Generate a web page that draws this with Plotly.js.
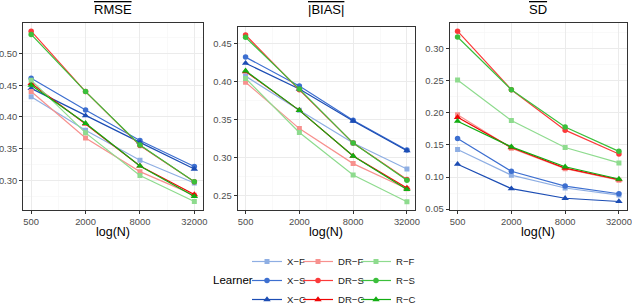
<!DOCTYPE html>
<html>
<head>
<meta charset="utf-8">
<script src="https://cdn.plot.ly/plotly-3.0.1.min.js"></script>
<style>html,body{margin:0;padding:0;background:#fff;}#chart{width:632px;height:304px;}</style>
</head>
<body>
<div id="chart"></div>
<script>
// ---- data ----
const N = [500, 2000, 8000, 32000];
const nLabels = ['500', '2000', '8000', '32000'];
const learners = ['X\u2212F', 'X\u2212S', 'X\u2212C', 'DR\u2212F', 'DR\u2212S', 'DR\u2212C', 'R\u2212F', 'R\u2212S', 'R\u2212C'];
const panelTitles = ['RMSE', '|BIAS|', 'SD'];
const xTitle = 'log(N)';

// RMSE
const rmse_XF = [0.432, 0.379, 0.332, 0.296];
const rmse_XS = [0.461, 0.411, 0.363, 0.322];
const rmse_XC = [0.445, 0.402, 0.360, 0.318];
const rmse_DRF = [0.440, 0.367, 0.314, 0.277];
const rmse_DRS = [0.535, 0.440, 0.355, 0.298];
const rmse_DRC = [0.453, 0.389, 0.323, 0.278];
const rmse_RF = [0.458, 0.375, 0.308, 0.267];
const rmse_RS = [0.530, 0.440, 0.356, 0.298];
const rmse_RC = [0.450, 0.390, 0.323, 0.275];

// |BIAS|
const bias_XF = [0.407, 0.362, 0.319, 0.285];
const bias_XS = [0.432, 0.394, 0.349, 0.310];
const bias_XC = [0.424, 0.390, 0.348, 0.309];
const bias_DRF = [0.399, 0.338, 0.292, 0.259];
const bias_DRS = [0.461, 0.389, 0.319, 0.271];
const bias_DRC = [0.413, 0.362, 0.302, 0.260];
const bias_RF = [0.404, 0.333, 0.277, 0.242];
const bias_RS = [0.458, 0.390, 0.319, 0.270];
const bias_RC = [0.414, 0.362, 0.302, 0.258];

// SD
const sd_XF = [0.143, 0.103, 0.083, 0.072];
const sd_XS = [0.160, 0.109, 0.086, 0.074];
const sd_XC = [0.120, 0.082, 0.067, 0.062];
const sd_DRF = [0.197, 0.145, 0.113, 0.095];
const sd_DRS = [0.327, 0.236, 0.173, 0.136];
const sd_DRC = [0.193, 0.146, 0.114, 0.096];
const sd_RF = [0.251, 0.188, 0.146, 0.122];
const sd_RS = [0.318, 0.236, 0.178, 0.140];
const sd_RC = [0.187, 0.147, 0.116, 0.097];

const rmse = [rmse_XF, rmse_XS, rmse_XC, rmse_DRF, rmse_DRS, rmse_DRC, rmse_RF, rmse_RS, rmse_RC];
const bias = [bias_XF, bias_XS, bias_XC, bias_DRF, bias_DRS, bias_DRC, bias_RF, bias_RS, bias_RC];
const sd = [sd_XF, sd_XS, sd_XC, sd_DRF, sd_DRS, sd_DRC, sd_RF, sd_RS, sd_RC];

// ---- styles ----
const colors = ['#8eaee3', '#3d6fd0', '#1c4db4', '#f7918e', '#fb3a3a', '#ef0505', '#8edb8e', '#3bbf3b', '#13ad13'];
const symbols = ['square', 'circle', 'triangle-up', 'square', 'circle', 'triangle-up', 'square', 'circle', 'triangle-up'];
const sizes = [5, 5.5, 6.5, 5, 5.5, 6.5, 5, 5.5, 6.5];
const legendIds = ['legend', 'legend', 'legend', 'legend2', 'legend2', 'legend2', 'legend3', 'legend3', 'legend3'];

const W = 632, H = 304;
const panels = [
  {data: rmse, x0: 23, x1: 202.5, y0: 22.7, y1: 210},
  {data: bias, x0: 237.5, x1: 415, y0: 26.7, y1: 210},
  {data: sd, x0: 449.5, x1: 627, y0: 22.7, y1: 210}
];

const traces = [];
panels.forEach((p, pi) => {
  const ax = pi === 0 ? '' : String(pi + 1);
  p.data.forEach((vals, li) => {
    traces.push({
      type: 'scatter', mode: 'lines+markers',
      x: N, y: vals,
      xaxis: 'x' + ax, yaxis: 'y' + ax,
      name: learners[li], legendgroup: learners[li],
      legend: legendIds[li],
      showlegend: pi === 0,
      line: {color: colors[li], width: 1.2},
      marker: {color: colors[li], symbol: symbols[li], size: sizes[li], line: {width: 0}},
      hoverinfo: 'x+y+name'
    });
  });
});

function expand(arrs) {
  let mn = Infinity, mx = -Infinity;
  arrs.forEach(a => a.forEach(v => { mn = Math.min(mn, v); mx = Math.max(mx, v); }));
  const pad = (mx - mn) * 0.05;
  return [mn - pad, mx + pad];
}
const lx0 = Math.log10(N[0]), lx1 = Math.log10(N[N.length - 1]);
const xr = [lx0 - 0.05 * (lx1 - lx0), lx1 + 0.05 * (lx1 - lx0)];
const minorX = [];
for (let i = 0; i < N.length - 1; i++) minorX.push(Math.sqrt(N[i] * N[i + 1]));

const tickFont = {family: 'Liberation Sans, Arial, sans-serif', size: 9.4, color: '#4d4d4d'};
const layout = {
  width: W, height: H,
  margin: {l: 0, r: 0, t: 0, b: 0, autoexpand: false},
  paper_bgcolor: '#ffffff', plot_bgcolor: '#ffffff',
  font: {family: 'Liberation Sans, Arial, sans-serif', color: '#000'},
  showlegend: true,
  annotations: [],
  hovermode: 'closest'
};

panels.forEach((p, pi) => {
  const ax = pi === 0 ? '' : String(pi + 1);
  layout['xaxis' + ax] = {
    domain: [p.x0 / W, p.x1 / W], anchor: 'y' + ax,
    type: 'log', range: xr, automargin: false,
    tickmode: 'array', tickvals: N, ticktext: nLabels,
    tickfont: tickFont, ticks: 'outside', ticklen: 3, tickcolor: '#333', tickwidth: 1,
    ticklabeloverflow: 'allow',
    showgrid: true, gridcolor: '#ebebeb', gridwidth: 1,
    minor: {tickmode: 'array', tickvals: minorX, showgrid: true, gridcolor: '#f5f5f5', gridwidth: 0.6, ticks: ''},
    showline: true, mirror: true, linecolor: '#333', linewidth: 1,
    zeroline: false
  };
  layout['yaxis' + ax] = {
    domain: [(H - p.y1) / H, (H - p.y0) / H], anchor: 'x' + ax,
    range: expand(p.data), automargin: false,
    tickmode: 'linear', tick0: 0, dtick: 0.05, tickformat: '.2f',
    tickfont: tickFont, ticks: 'outside', ticklen: 3, tickcolor: '#333', tickwidth: 1,
    ticklabeloverflow: 'allow',
    showgrid: true, gridcolor: '#ebebeb', gridwidth: 1,
    minor: {tickmode: 'linear', tick0: 0, dtick: 0.025, showgrid: true, gridcolor: '#f5f5f5', gridwidth: 0.6, ticks: ''},
    showline: true, mirror: true, linecolor: '#333', linewidth: 1,
    zeroline: false
  };
  // panel title (with overline)
  layout.annotations.push({
    xref: 'paper', yref: 'paper',
    x: ((p.x0 + p.x1) / 2) / W, y: 1, xanchor: 'center', yanchor: 'top',
    text: '<span style="text-decoration:overline">' + panelTitles[pi] + '</span>',
    showarrow: false, font: {size: 13, color: '#000'}
  });
  // x axis title
  layout.annotations.push({
    xref: 'paper', yref: 'paper',
    x: ((p.x0 + p.x1) / 2) / W, y: 1 - 232 / H, xanchor: 'center', yanchor: 'middle',
    text: xTitle, showarrow: false, font: {size: 12.5, color: '#000'}
  });
});

layout.annotations.push({
  xref: 'paper', yref: 'paper', x: 233 / W, y: 1 - 280 / H,
  xanchor: 'center', yanchor: 'middle', text: 'Learner', showarrow: false,
  font: {size: 11.5, color: '#000'}
});

const legFont = {size: 9.6, color: '#1a1a1a'};
const legCommon = {orientation: 'v', xanchor: 'left', yanchor: 'top', y: 1 - 247 / H,
  bgcolor: 'rgba(0,0,0,0)', borderwidth: 0, font: legFont, itemwidth: 30, tracegroupgap: 0};
layout.legend = Object.assign({}, legCommon, {x: 247 / W});
layout.legend2 = Object.assign({}, legCommon, {x: 298 / W});
layout.legend3 = Object.assign({}, legCommon, {x: 356 / W});

Plotly.newPlot('chart', traces, layout, {displayModeBar: false, staticPlot: true});
</script>
</body>
</html>
